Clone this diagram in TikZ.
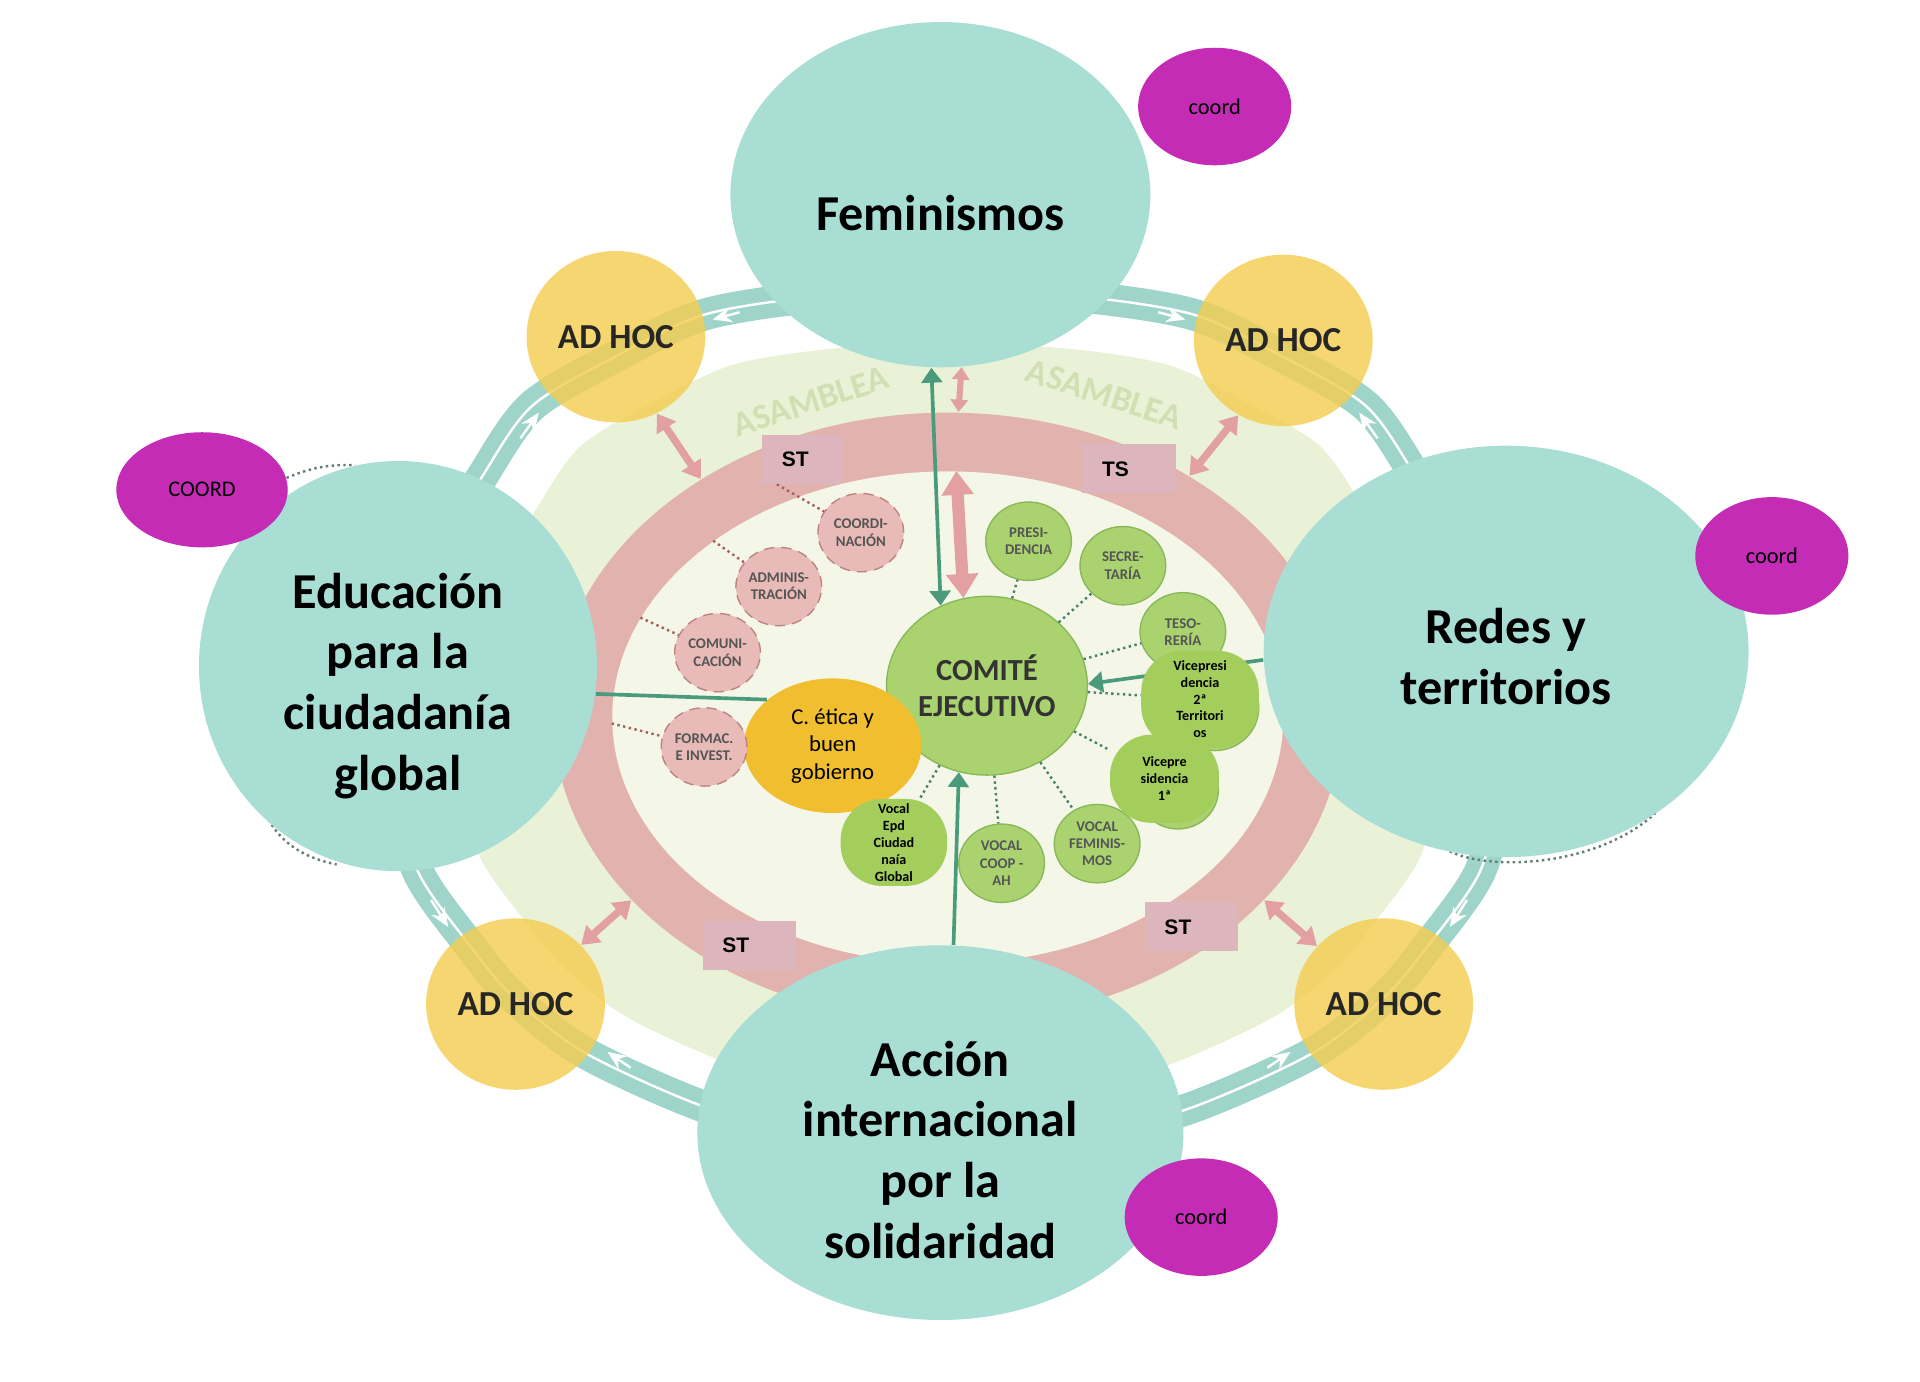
\documentclass[tikz,border=0pt]{standalone}
\usepackage{fontspec}
\setmainfont{Carlito}
\newfontfamily\stfont{Liberation Sans}
\usetikzlibrary{arrows.meta,shapes.geometric}

\definecolor{tealc}{RGB}{168,222,212}
\definecolor{ringc}{RGB}{158,212,202}
\definecolor{magc}{RGB}{196,44,181}
\definecolor{adhocc}{RGB}{243,205,82}
\definecolor{pinkc}{RGB}{226,178,174}
\definecolor{pinkd}{RGB}{190,130,128}
\definecolor{pinkbox}{RGB}{220,182,188}
\definecolor{smallpink}{RGB}{232,186,184}
\definecolor{asamc}{RGB}{233,242,214}
\definecolor{innerc}{RGB}{244,247,231}
\definecolor{asamtxt}{RGB}{208,224,178}
\definecolor{greenc}{RGB}{170,211,112}
\definecolor{greend}{RGB}{136,184,90}
\definecolor{blobc}{RGB}{163,206,92}
\definecolor{eticac}{RGB}{240,190,46}
\definecolor{arrowg}{RGB}{74,154,124}
\definecolor{dotg}{RGB}{70,128,108}
\definecolor{dotp}{RGB}{168,96,92}
\definecolor{dotc}{RGB}{96,124,116}
\definecolor{pinka}{RGB}{226,160,162}
\definecolor{txtg}{RGB}{85,85,85}

\def\px{0.0125cm}
\newcommand\ringline{plot[smooth cycle] coordinates {(0,-347) (105,-343) (200,-328) (272,-294) (341,-253) (383,-193) (430,-115) (453,-25) (450,55) (434,126) (393,185) (356,229) (297,275) (194,321) (105,340) (0,347) (-105,340) (-194,321) (-297,275) (-356,229) (-393,185) (-434,126) (-450,55) (-453,-25) (-430,-115) (-383,-193) (-341,-253) (-272,-294) (-200,-328) (-105,-343)}}

\tikzset{
  bigcircle/.style={ellipse, fill=tealc, inner sep=0pt},
  bigtext/.style={font=\fontsize{14.6}{17.6}\selectfont\bfseries, align=center},
  coordnode/.style={ellipse, fill=magc, inner sep=0pt, minimum width=125*\px, minimum height=96*\px, font=\fontsize{6.5}{8}\selectfont},
  adhoc/.style={ellipse, fill=adhocc, fill opacity=0.82, text opacity=1, inner sep=0pt, minimum width=146*\px, minimum height=140*\px, font=\fontsize{10.2}{12}\selectfont\bfseries, text=black!85},
  asamtext/.style={text=asamtxt, inner sep=0pt, font=\fontsize{10.2}{12}\selectfont\bfseries},
  stbox/.style={rectangle, fill=pinkbox, inner xsep=16*\px, inner ysep=0pt, minimum height=40*\px, text width=44*\px, align=left, font=\stfont\bfseries\fontsize{6.1}{7}\selectfont},
  pinksmall/.style={ellipse, fill=smallpink, draw=pinkd, densely dashed, line width=0.4pt, inner sep=0pt, minimum width=70*\px, minimum height=64*\px, text=txtg, align=center, font=\fontsize{4.3}{5}\selectfont\bfseries},
  greensmall/.style={ellipse, fill=greenc, draw=greend, line width=0.4pt, inner sep=0pt, minimum width=70*\px, minimum height=64*\px, text=txtg, align=center, font=\fontsize{4.3}{5}\selectfont\bfseries},
  blob/.style={rectangle, rounded corners=0.42cm, fill=blobc, inner sep=0pt, align=center, font=\fontsize{4.1}{4.9}\selectfont\bfseries},
  garrow/.style={draw=arrowg, line width=3*\px, -{Triangle[length=4.3pt,width=6pt]}},
  gdarrow/.style={draw=arrowg, line width=3*\px, {Triangle[length=4.3pt,width=6pt]}-{Triangle[length=4.3pt,width=6pt]}},
  gline/.style={draw=arrowg, line width=3*\px},
  parrow/.style={draw=pinka, line width=6*\px, {Triangle[length=5pt,width=6.5pt]}-{Triangle[length=5pt,width=6.5pt]}},
  pbig/.style={draw=pinka, line width=10*\px, {Triangle[length=7pt,width=9pt]}-{Triangle[length=7pt,width=9pt]}},
  psmall/.style={draw=pinka, line width=5*\px, {Triangle[length=3.6pt,width=5pt]}-{Triangle[length=3.6pt,width=5pt]}},
  gdot/.style={draw=dotg, line width=0.7pt, dash pattern=on 0.7pt off 1pt},
  pdot/.style={draw=dotp, line width=0.7pt, dash pattern=on 0.7pt off 1pt},
  cdot/.style={draw=dotc, line width=0.7pt, dash pattern=on 0.7pt off 1pt},
  ringtip/.style={draw=white, line width=2*\px, -{Stealth[length=5.5pt,width=4.5pt]}}
}

\begin{document}
\begin{tikzpicture}[x=0.0125cm, y=-0.0125cm]
    \useasboundingbox (0,0) rectangle (1568,1128);

    \begin{scope}[shift={(776,588)}, scale=0.885]
        \fill[asamc] \ringline;
    \end{scope}
    \begin{scope}[shift={(775,585)}]
        \draw[ringc, line width=26*\px] \ringline;
        \draw[white, line width=2*\px] \ringline;
    \end{scope}
    \draw[ringtip] (946,255) -- (968,261);
    \draw[ringtip] (604,255) -- (582,261);
    \draw[ringtip] (425,358) -- (440,337);
    \draw[ringtip] (1125,358) -- (1110,337);
    \draw[ringtip] (352,735) -- (366,757);
    \draw[ringtip] (1198,735) -- (1184,757);
    \draw[ringtip] (515,872) -- (496,859);
    \draw[ringtip] (1035,872) -- (1054,859);

    \node[ellipse, fill=pinkc, inner sep=0pt, minimum width=644*\px, minimum height=498*\px] (pinkout) at (774,586) {};
    \node[ellipse, fill=innerc, inner sep=0pt, minimum width=548*\px, minimum height=402*\px] (pinkin) at (774,586) {};

    \node[asamtext, rotate=18] (asamL) at (662,328) {ASAMBLEA};
    \node[asamtext, rotate=-18] (asamR) at (902,322) {ASAMBLEA};

    \draw[cdot] (212,652) .. controls (222,685) and (245,700) .. (275,706);
    \draw[cdot] (1176,690) .. controls (1200,712) and (1300,712) .. (1352,664);

    \node[stbox, text width=33*\px] (stTL) at (655,375) {ST};
    \node[stbox] (stTR) at (922,383) {TS};
    \node[stbox] (stBL) at (612,772) {ST};
    \node[stbox] (stBR) at (973,757) {ST};

    \node[bigcircle, minimum width=343*\px, minimum height=282*\px] (fem) at (768,159) {};
    \node[bigcircle, minimum width=325*\px, minimum height=335*\px] (edu) at (325,544) {};
    \node[bigcircle, minimum width=396*\px, minimum height=336*\px] (redes) at (1230,532) {};
    \node[bigcircle, minimum width=397*\px, minimum height=306*\px] (acc) at (768,925) {};
    \node[bigtext] (femtxt) at (768,174) {Feminismos};
    \node[bigtext] (edutxt) at (325,560) {Educación\\para la\\ciudadanía\\global};
    \node[bigtext] (redestxt) at (1230,536) {Redes y\\territorios};
    \node[bigtext] (acctxt) at (768,939) {Acción\\internacional\\por la\\solidaridad};

    \node[adhoc] (adTL) at (503,275) {AD HOC};
    \node[adhoc] (adTR) at (1048,278) {AD HOC};
    \node[adhoc] (adBL) at (421,820) {AD HOC};
    \node[adhoc] (adBR) at (1130,820) {AD HOC};

    \draw[parrow] (adTL.-62) -- (pinkout.136);
    \draw[parrow] (adTR.-121.5) -- (pinkout.45.4);
    \draw[parrow] (adBL.42.8) -- (pinkout.210);
    \draw[parrow] (adBR.139.6) -- (pinkout.-30.3);

    \node[ellipse, fill=greenc, draw=greend, line width=0.4pt, inner sep=0pt, minimum width=164*\px, minimum height=146*\px, align=center, text=black!80, font=\fontsize{8.9}{10.3}\selectfont\bfseries] (comite) at (806,560) {COMITÉ\\EJECUTIVO};
    \node[ellipse, fill=eticac, inner sep=0pt, minimum width=145*\px, minimum height=110*\px, align=center, font=\fontsize{6.6}{8}\selectfont] (etica) at (680,609) {C. ética y\\buen\\gobierno};

    \draw[pbig] (pinkin.88) -- (comite.105);
    \draw[psmall] (fem.-83.5) -- (pinkout.88);

    \node[pinksmall] (coordi) at (703,435) {COORDI-\\NACIÓN};
    \node[pinksmall] (admin) at (636,479) {ADMINIS-\\TRACIÓN};
    \node[pinksmall] (comuni) at (586,533) {COMUNI-\\CACIÓN};
    \node[pinksmall] (formac) at (575,610) {FORMAC.\\E INVEST.};

    \node[greensmall] (presi) at (840,442) {PRESI-\\DENCIA};
    \node[greensmall] (secre) at (917,462) {SECRE-\\TARÍA};
    \node[greensmall] (teso) at (966,516) {TESO-\\RERÍA};
    \node[greensmall] (vocfem) at (896,689) {VOCAL\\FEMINIS-\\MOS};
    \node[greensmall] (voccoop) at (818,705) {VOCAL\\COOP -\\AH};
    \node[greensmall, minimum width=72*\px, minimum height=70*\px] (vice2c) at (992,578) {};
    \node[greensmall, minimum width=66*\px, minimum height=64*\px] (vice1c) at (962,645) {};

    \draw[pdot] (stTL.-135) -- (coordi);
    \draw[pdot] (pinkin.143) -- (admin);
    \draw[pdot] (pinkin.162.5) -- (comuni);
    \draw[pdot] (pinkin.181) -- (formac);

    \draw[gdarrow] (fem.-93) -- (comite.120);
    \draw[garrow] (acc.86) -- (comite.-108);
    \draw[garrow] (redes.182) -- (comite.1);
    \draw[gline] (edu.-8) -- (etica.145);

    \node[blob, minimum width=96*\px, minimum height=79*\px] (vice2) at (980,571) {Vicepresi\\dencia\\2ª\\Territori\\os};
    \node[blob, minimum width=89*\px, minimum height=72*\px] (vice1) at (951,636) {Vicepre\\sidencia\\1ª};
    \node[blob, minimum width=87*\px, minimum height=71*\px] (vocepd) at (730,688) {Vocal\\Epd\\Ciudad\\naía\\Global};

    \foreach \n in {presi,secre,teso,vice2,vice1,vocfem,voccoop,vocepd}
        \draw[gdot] (comite) -- (\n);

    \node[coordnode] (coordF) at (992,87) {coord};
    \node[coordnode, minimum width=140*\px, minimum height=94*\px] (coordE) at (165,400) {COORD};
    \node[coordnode] (coordR) at (1447,454) {coord};
    \node[coordnode] (coordA) at (981,994) {coord};

    \draw[cdot] (coordE.8) to[bend left=12] (edu.102);
\end{tikzpicture}
\end{document}
